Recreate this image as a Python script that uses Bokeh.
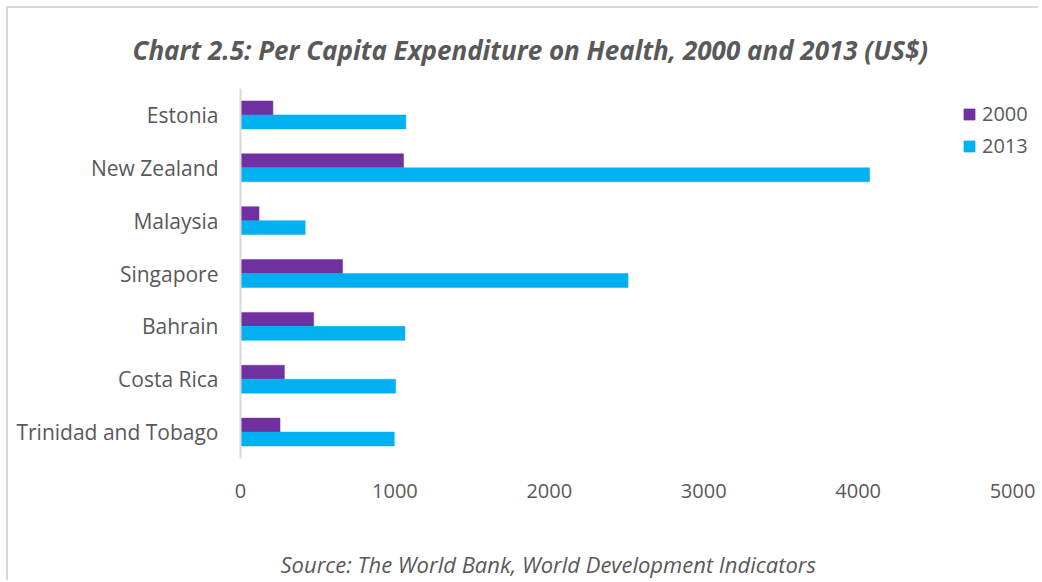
from bokeh.plotting import figure
from bokeh.layouts import column
from bokeh.models import FactorRange, ColumnDataSource, Legend, LegendItem, Title, FixedTicker
from bokeh.transform import dodge
from bokeh.embed import file_html
from bokeh.resources import INLINE

countries = ["Estonia", "New Zealand", "Malaysia", "Singapore", "Bahrain", "Costa Rica", "Trinidad and Tobago"]
values_2000 = [210, 1056, 120, 661, 474, 284, 256]
values_2013 = [1071, 4074, 419, 2510, 1065, 1004, 996]
x_ticks = [0, 1000, 2000, 3000, 4000, 5000]
series_names = ["2000", "2013"]

TEXT = "#595959"
C2000 = "#7030A0"
C2013 = "#00B0F0"

source = ColumnDataSource(dict(country=countries, v2000=values_2000, v2013=values_2013))

p = figure(width=1030, height=498, output_backend="svg", toolbar_location=None,
           y_range=FactorRange(factors=countries[::-1]), x_range=(0, 5168),
           min_border_left=232, min_border_right=0, min_border_top=79, min_border_bottom=48)

r1 = p.hbar(y=dodge("country", 0.132, range=p.y_range), right="v2000", left=0, height=0.264,
            source=source, fill_color=C2000, line_color=C2000, line_width=0.5)
r2 = p.hbar(y=dodge("country", -0.132, range=p.y_range), right="v2013", left=0, height=0.264,
            source=source, fill_color=C2013, line_color=C2013, line_width=0.5)

p.outline_line_color = None
p.xgrid.grid_line_color = None
p.ygrid.grid_line_color = None
p.background_fill_color = "white"
p.border_fill_color = "white"

xa = p.xaxis[0]
xa.ticker = FixedTicker(ticks=x_ticks)
xa.axis_line_color = None
xa.major_tick_line_color = None
xa.minor_tick_line_color = None
xa.major_label_standoff = 19
xa.major_label_text_font = "Open Sans"
xa.major_label_text_font_size = "20px"
xa.major_label_text_color = TEXT

ya = p.yaxis[0]
ya.axis_line_color = "#d9d9d9"
ya.axis_line_width = 2
ya.major_tick_line_color = None
ya.minor_tick_line_color = None
ya.major_label_standoff = 16
ya.major_label_text_font = "Open Sans"
ya.major_label_text_font_size = "21px"
ya.major_label_text_color = TEXT

p.title.text = "Chart 2.5: Per Capita Expenditure on Health, 2000 and 2013 (US$)"
p.title.align = "left"
p.title.text_font = "Open Sans"
p.title.text_font_style = "bold italic"
p.title.text_font_size = "26px"
p.title.text_color = TEXT
p.title.offset = -108
p.title.standoff = 42

legend = Legend(items=[LegendItem(label=series_names[0], renderers=[r1]),
                       LegendItem(label=series_names[1], renderers=[r2])],
                location=(722, 299), orientation="vertical",
                glyph_width=14, glyph_height=14, label_standoff=6, spacing=5,
                padding=0, margin=0, border_line_color=None, background_fill_alpha=0,
                label_text_font="Open Sans", label_text_font_size="20px", label_text_color=TEXT)
p.add_layout(legend, "center")

# footer figure carrying the source note (its frame is aligned with the main frame)
p2 = figure(width=1030, height=74, output_backend="svg", toolbar_location=None,
            x_axis_location=None, y_axis_location=None,
            min_border_left=0, min_border_right=0, min_border_top=73, min_border_bottom=0)
p2.outline_line_color = None
p2.xgrid.grid_line_color = None
p2.ygrid.grid_line_color = None
p2.border_fill_color = "white"
p2.title.text = "Source: The World Bank, World Development Indicators"
p2.title.align = "left"
p2.title.offset = 40
p2.title.standoff = 1
p2.title.text_font = "Open Sans"
p2.title.text_font_style = "italic"
p2.title.text_font_size = "22px"
p2.title.text_color = TEXT

layout = column(p, p2, spacing=0)
layout.styles = {"margin": "6px 0 0 6px",
                 "border-top": "2px solid #d9d9d9", "border-left": "2px solid #d9d9d9"}

open("out.html", "w").write(file_html(layout, INLINE))
